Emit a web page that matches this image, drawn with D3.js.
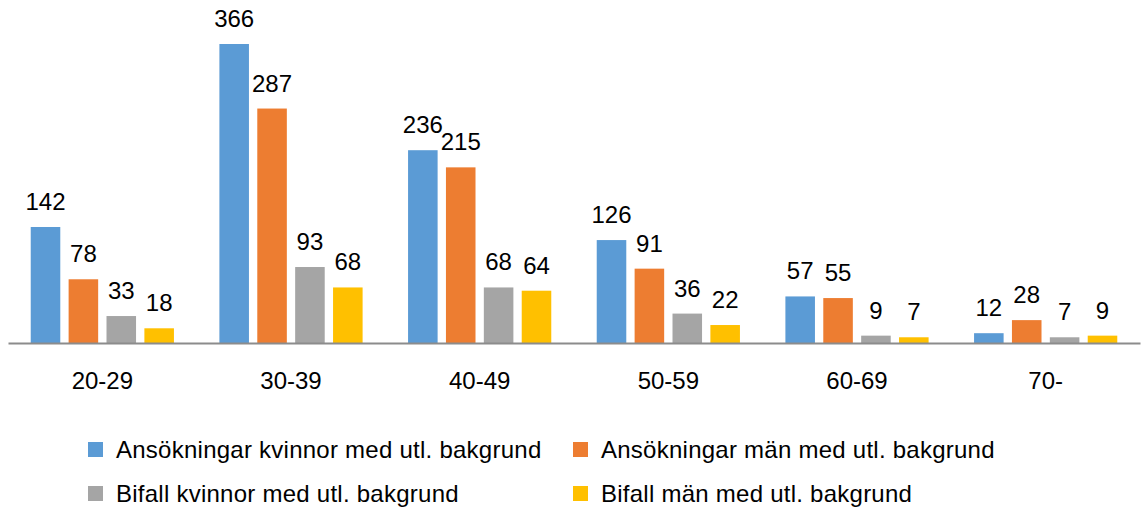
<!DOCTYPE html>
<html>
<head>
<meta charset="utf-8">
<script src="https://cdn.jsdelivr.net/npm/d3@7"></script>
<style>
  body { margin: 0; background: #fff; }
  svg text { font-family: "Liberation Sans", Arial, sans-serif; fill: #000; }
</style>
</head>
<body>
<div id="chart"></div>
<script>
const categories = ["20-29", "30-39", "40-49", "50-59", "60-69", "70-"];
const seriesNames = [
  "Ansökningar kvinnor med utl. bakgrund",
  "Ansökningar män med utl. bakgrund",
  "Bifall kvinnor med utl. bakgrund",
  "Bifall män med utl. bakgrund"
];
const ansKvinnor = [142, 366, 236, 126, 57, 12];
const ansMan = [78, 287, 215, 91, 55, 28];
const bifKvinnor = [33, 93, 68, 36, 9, 7];
const bifMan = [18, 68, 64, 22, 7, 9];
const colors = ["#5B9BD5", "#ED7D31", "#A5A5A5", "#FFC000"];

const series = [ansKvinnor, ansMan, bifKvinnor, bifMan];

const width = 1142, height = 508;
const baseY = 343;

const svg = d3.select("#chart").append("svg")
    .attr("width", width)
    .attr("height", height);

const x0 = d3.scaleBand()
    .domain(categories)
    .range([8, 1140]);

const x1 = d3.scaleBand()
    .domain(d3.range(4))
    .range([0, x0.bandwidth()])
    .paddingInner(0.22)
    .paddingOuter(0.6);

const y = d3.scaleLinear()
    .domain([0, 366])
    .range([baseY, 44]);

const groups = svg.selectAll("g.group")
    .data(categories)
    .enter()
    .append("g")
    .attr("class", "group")
    .attr("transform", d => `translate(${x0(d)},0)`);

groups.selectAll("rect")
    .data((d, i) => series.map((s, k) => ({k: k, v: s[i]})))
    .enter()
    .append("rect")
        .attr("x", d => x1(d.k))
        .attr("y", d => y(d.v))
        .attr("width", x1.bandwidth())
        .attr("height", d => baseY - y(d.v))
        .attr("fill", d => colors[d.k]);

groups.selectAll("text.val")
    .data((d, i) => series.map((s, k) => ({k: k, v: s[i]})))
    .enter()
    .append("text")
        .attr("class", "val")
        .attr("x", d => x1(d.k) + x1.bandwidth() / 2)
        .attr("y", d => y(d.v) - 17)
        .attr("text-anchor", "middle")
        .style("font-size", "24px")
        .text(d => d.v);

// x axis
const xAxis = svg.append("g")
    .attr("transform", `translate(0,${baseY})`)
    .call(d3.axisBottom(x0).tickSize(0).tickPadding(29));
xAxis.select(".domain").attr("stroke", "#8c8c8c").attr("stroke-width", 2);
xAxis.selectAll("text").style("font-size", "24px").style("font-family", "Liberation Sans, Arial, sans-serif");

// legend
const legendPos = [[88, 449], [573, 449], [88, 493], [573, 493]];
const legend = svg.selectAll("g.legend")
    .data(seriesNames)
    .enter()
    .append("g")
    .attr("class", "legend")
    .attr("transform", (d, i) => `translate(${legendPos[i][0]},${legendPos[i][1]})`);

legend.append("rect")
    .attr("x", 0)
    .attr("y", -7)
    .attr("width", 15)
    .attr("height", 15)
    .attr("fill", (d, i) => colors[i]);

legend.append("text")
    .attr("x", 28)
    .attr("y", 9)
    .style("font-size", "24px")
    .style("letter-spacing", "0.25px")
    .text(d => d);
</script>
</body>
</html>
